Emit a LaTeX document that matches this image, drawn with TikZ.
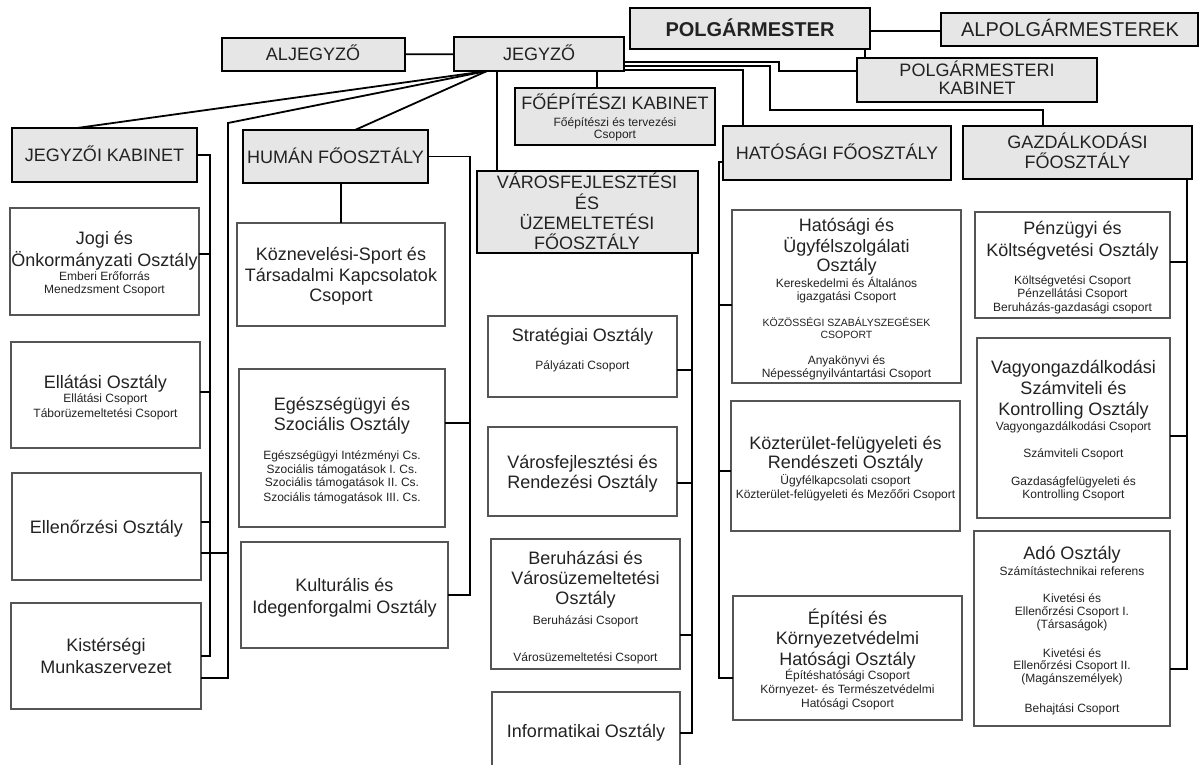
\documentclass[tikz,border=0pt]{standalone}
\usepackage{fontspec}
\setmainfont{Liberation Sans}
\usetikzlibrary{calc}
\definecolor{hdrfill}{HTML}{E6E6E6}
\definecolor{txtc}{HTML}{222222}
\definecolor{bdr}{HTML}{555555}
\newcounter{tlc}
\newcommand\tline[4]{\stepcounter{tlc}\node[#3] (txt\arabic{tlc}) at (#1,#2) {#4};}
\newcommand\bx[6]{\node[#1, minimum width={(#5)-(#3)}, minimum height={(#6)-(#4)}] (#2) at ({((#3)+(#5))/2},{((#4)+(#6))/2}) {};}
\tikzset{
 hdr/.style={draw=black, line width=1.5pt, fill=hdrfill, inner sep=0pt, outer sep=0pt},
 unit/.style={draw=bdr, line width=1.1pt, fill=white, inner sep=0pt, outer sep=0pt},
 conn/.style={draw=black, line width=1.8pt, line join=miter},
 tt/.style={inner sep=0pt, text=txtc, text height=13pt, text depth=0pt, font=\fontsize{18}{20}\selectfont},
 st/.style={inner sep=0pt, text=txtc, text height=8.6pt, text depth=0pt, font=\fontsize{12}{14}\selectfont},
 xs/.style={inner sep=0pt, text=txtc, text height=7.6pt, text depth=0pt, font=\fontsize{10.5}{12}\selectfont},
 bt/.style={inner sep=0pt, text=txtc, text height=14.4pt, text depth=0pt, font=\fontsize{20}{22}\selectfont\bfseries},
 ht/.style={inner sep=0pt, text=txtc, text height=14.4pt, text depth=0pt, font=\fontsize{20}{22}\selectfont},
}
\begin{document}
\begin{tikzpicture}[x=1pt,y=-1pt]
\useasboundingbox[fill=white] (0,0) rectangle (1200,764);
% header boxes
\bx{hdr}{aljegyzo}{222}{38}{405}{71}
\bx{hdr}{jegyzo}{454}{37}{624}{71}
\bx{hdr}{polg}{630}{8}{870}{49}
\bx{hdr}{alpol}{941}{13}{1198}{46}
\bx{hdr}{pk}{857}{58}{1097}{102}
\bx{hdr}{foep}{515}{88}{715}{145}
\bx{hdr}{hat}{723}{126}{951}{180}
\bx{hdr}{gazd}{963}{126}{1192}{179}
\bx{hdr}{vf}{477}{171}{698}{253}
\bx{hdr}{jk}{12}{128}{197}{182}
\bx{hdr}{human}{243}{130}{428}{183}
% unit boxes
\bx{unit}{jogi}{10}{208}{199}{315}
\bx{unit}{ellat}{11}{342}{200}{448}
\bx{unit}{ellen}{12}{473}{201}{580}
\bx{unit}{kist}{11}{603}{201}{709}
\bx{unit}{kozn}{237}{223}{445}{326}
\bx{unit}{egesz}{239}{369}{445}{527}
\bx{unit}{kult}{241}{542}{448}{648}
\bx{unit}{strat}{488}{316}{677}{397}
\bx{unit}{varosf}{488}{427}{677}{516}
\bx{unit}{beruh}{491}{539}{680}{669}
\bx{unit}{info}{492}{692}{680}{790}
\bx{unit}{hu}{732}{210}{961}{383}
\bx{unit}{kozt}{731}{401}{960}{531}
\bx{unit}{epit}{733}{596}{962}{720}
\bx{unit}{penz}{975}{212}{1170}{318}
\bx{unit}{vagy}{977}{338}{1170}{518}
\bx{unit}{ado}{974}{531}{1170}{726}
% connectors
\coordinate (jd) at ($(jegyzo.south west)+(33,0)$);
\draw[conn] (aljegyzo) -- (jegyzo);
\draw[conn] (polg.east |- 0,31) -- (alpol.west |- 0,31);
\draw[conn] (polg.south -| 865,0) -- (pk.north -| 865,0);
\draw[conn] (jd) -- ($(jk.north west)+(65,0)$);
\draw[conn] (jd) -- (228,123) -- (228,678) -- (kist.east |- 0,678);
\draw[conn] (228,553) -- (ellen.east |- 0,553);
\draw[conn] (jd) -- ($(human.north west)+(112,0)$);
\draw[conn] (jegyzo.south -| 497,0) -- (vf.north -| 497,0);
\draw[conn] (jegyzo.south -| 597,0) -- (foep.north -| 597,0);
\draw[conn] (jegyzo.east |- 0,62) -- (779,62) -- (779,71) -- (pk.west |- 0,71);
\draw[conn] (jegyzo.east |- 0,66) -- (770,66) -- (770,110) -- (1043,110) -- (gazd.north -| 1043,0);
\draw[conn] (jegyzo.east |- 0,70) -- (743,70) -- (hat.north -| 743,0);
% left trunk (Jegyzoi kabinet)
\draw[conn] (jk.east) -- (210,155) -- (210,656) -- (kist.east |- 0,656);
\draw[conn] (jogi.east |- 0,254) -- (210,254);
\draw[conn] (ellat.east |- 0,392) -- (210,392);
\draw[conn] (ellen.east |- 0,522) -- (210,522);
% human
\draw[conn] (human.east) -- (470,156.5) -- (470,595) -- (kult.east |- 0,595);
\draw[conn] (egesz.east |- 0,423) -- (470,423);
\draw[conn] (human.south -| 341,0) -- (kozn.north -| 341,0);
% varosfejlesztesi
\draw[conn] (vf.south -| 692,0) -- (692,733) -- (info.east |- 0,733);
\draw[conn] (strat.east |- 0,370) -- (692,370);
\draw[conn] (varosf.east |- 0,483) -- (692,483);
\draw[conn] (beruh.east |- 0,635) -- (692,635);
% hatosagi
\draw[conn] (hat.west |- 0,162) -- (719,162) -- (719,678) -- (epit.west |- 0,678);
\draw[conn] (hu.west |- 0,305) -- (719,305);
\draw[conn] (kozt.west |- 0,471) -- (719,471);
% gazdalkodasi
\draw[conn] (gazd.south -| 1187,0) -- (1187,669) -- (ado.east |- 0,669);
\draw[conn] (penz.east |- 0,262) -- (1187,262);
\draw[conn] (vagy.east |- 0,436) -- (1187,436);
% header texts
\tline{313}{54}{tt}{ALJEGYZŐ}
\tline{539}{54}{tt}{JEGYZŐ}
\tline{750}{29}{bt}{POLGÁRMESTER}
\tline{1070}{29.5}{ht}{ALPOLGÁRMESTEREK}
\tline{977}{70}{tt}{POLGÁRMESTERI}
\tline{977}{88}{tt}{KABINET}
\tline{615}{103}{tt}{FŐÉPÍTÉSZI KABINET}
\tline{615}{122}{st}{Főépítészi és tervezési}
\tline{615}{134}{st}{Csoport}
\tline{837}{153}{tt}{HATÓSÁGI FŐOSZTÁLY}
\tline{1077.5}{142}{tt}{GAZDÁLKODÁSI}
\tline{1077.5}{162}{tt}{FŐOSZTÁLY}
\tline{587}{182}{tt}{VÁROSFEJLESZTÉSI}
\tline{587}{203}{tt}{ÉS}
\tline{587}{223}{tt}{ÜZEMELTETÉSI}
\tline{587}{243}{tt}{FŐOSZTÁLY}
\tline{104.5}{155}{tt}{JEGYZŐI KABINET}
\tline{335.5}{157}{tt}{HUMÁN FŐOSZTÁLY}
% left column
\tline{104.5}{238}{tt}{Jogi és}
\tline{104.5}{260}{tt}{Önkormányzati Osztály}
\tline{104.5}{276}{st}{Emberi Erőforrás}
\tline{104.5}{289}{st}{Menedzsment Csoport}
\tline{105.5}{382}{tt}{Ellátási Osztály}
\tline{105.5}{398}{st}{Ellátási Csoport}
\tline{105.5}{413}{st}{Táborüzemeltetési Csoport}
\tline{106.5}{527}{tt}{Ellenőrzési Osztály}
\tline{106}{645}{tt}{Kistérségi}
\tline{106}{667}{tt}{Munkaszervezet}
% human column
\tline{341}{254}{tt}{Köznevelési-Sport és}
\tline{341}{275}{tt}{Társadalmi Kapcsolatok}
\tline{341}{295}{tt}{Csoport}
\tline{342}{404}{tt}{Egészségügyi és}
\tline{342}{424}{tt}{Szociális Osztály}
\tline{342}{455}{st}{Egészségügyi Intézményi Cs.}
\tline{342}{469}{st}{Szociális támogatások I. Cs.}
\tline{342}{482}{st}{Szociális támogatások II. Cs.}
\tline{342}{497}{st}{Szociális támogatások III. Cs.}
\tline{344.5}{585}{tt}{Kulturális és}
\tline{344.5}{607}{tt}{Idegenforgalmi Osztály}
% VF column
\tline{582.5}{335}{tt}{Stratégiai Osztály}
\tline{582.5}{365}{st}{Pályázati Csoport}
\tline{582.5}{462}{tt}{Városfejlesztési és}
\tline{582.5}{482}{tt}{Rendezési Osztály}
\tline{585.5}{558}{tt}{Beruházási és}
\tline{585.5}{578}{tt}{Városüzemeltetési}
\tline{585.5}{598}{tt}{Osztály}
\tline{585.5}{620}{st}{Beruházási Csoport}
\tline{585.5}{657}{st}{Városüzemeltetési Csoport}
\tline{586}{731}{tt}{Informatikai Osztály}
% HAT column
\tline{846.5}{225}{tt}{Hatósági és}
\tline{846.5}{246}{tt}{Ügyfélszolgálati}
\tline{846.5}{265}{tt}{Osztály}
\tline{846.5}{283}{st}{Kereskedelmi és Általános}
\tline{846.5}{296}{st}{igazgatási Csoport}
\tline{846.5}{323}{xs}{KÖZÖSSÉGI SZABÁLYSZEGÉSEK}
\tline{846.5}{335}{xs}{CSOPORT}
\tline{846.5}{360}{st}{Anyakönyvi és}
\tline{846.5}{373}{st}{Népességnyilvántartási Csoport}
\tline{845.5}{443}{tt}{Közterület-felügyeleti és}
\tline{845.5}{462}{tt}{Rendészeti Osztály}
\tline{845.5}{480}{st}{Ügyfélkapcsolati csoport}
\tline{845.5}{494}{st}{Közterület-felügyeleti és Mezőőri Csoport}
\tline{847.5}{618}{tt}{Építési és}
\tline{847.5}{638}{tt}{Környezetvédelmi}
\tline{847.5}{659}{tt}{Hatósági Osztály}
\tline{847.5}{675}{st}{Építéshatósági Csoport}
\tline{847.5}{689}{st}{Környezet- és Természetvédelmi}
\tline{847.5}{703}{st}{Hatósági Csoport}
% GAZD column
\tline{1072.5}{228}{tt}{Pénzügyi és}
\tline{1072.5}{250}{tt}{Költségvetési Osztály}
\tline{1072.5}{280}{st}{Költségvetési Csoport}
\tline{1072.5}{293}{st}{Pénzellátási Csoport}
\tline{1072.5}{307}{st}{Beruházás-gazdasági csoport}
\tline{1073.5}{367}{tt}{Vagyongazdálkodási}
\tline{1073.5}{388}{tt}{Számviteli és}
\tline{1073.5}{409}{tt}{Kontrolling Osztály}
\tline{1073.5}{426}{st}{Vagyongazdálkodási Csoport}
\tline{1073.5}{453}{st}{Számviteli Csoport}
\tline{1073.5}{481}{st}{Gazdaságfelügyeleti és}
\tline{1073.5}{494}{st}{Kontrolling Csoport}
\tline{1072}{553}{tt}{Adó Osztály}
\tline{1072}{571}{st}{Számítástechnikai referens}
\tline{1072}{598}{st}{Kivetési és}
\tline{1072}{611}{st}{Ellenőrzési Csoport I.}
\tline{1072}{624}{st}{(Társaságok)}
\tline{1072}{653}{st}{Kivetési és}
\tline{1072}{665}{st}{Ellenőrzési Csoport II.}
\tline{1072}{678}{st}{(Magánszemélyek)}
\tline{1072}{708}{st}{Behajtási Csoport}
\end{tikzpicture}
\end{document}
